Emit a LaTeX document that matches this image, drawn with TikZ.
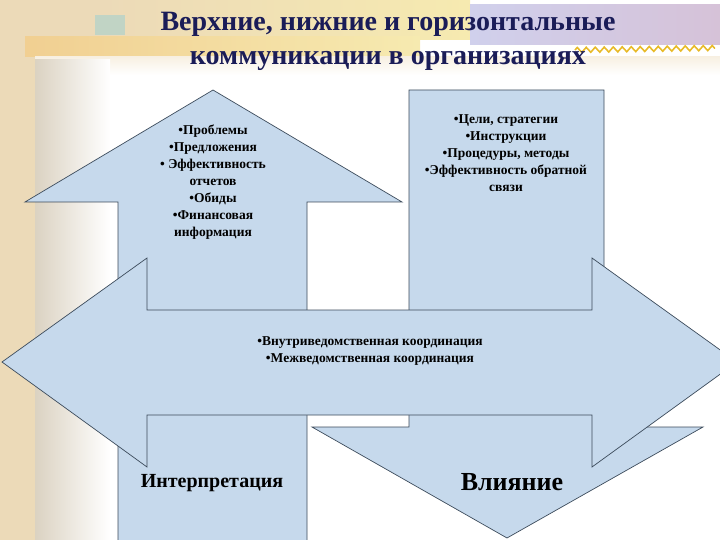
\documentclass[tikz,border=0pt]{standalone}
\usepackage{fontspec}
\setmainfont{Liberation Serif}
\usetikzlibrary{decorations.pathmorphing}
\definecolor{shapeblue}{RGB}{198,217,236}
\definecolor{edgegray}{RGB}{60,75,91}
\definecolor{titlenavy}{RGB}{26,28,88}
\definecolor{sandbeige}{RGB}{236,218,184}
\definecolor{paleyellow}{RGB}{246,234,176}
\definecolor{bandorange}{RGB}{244,200,120}
\definecolor{lavender}{RGB}{208,208,236}
\definecolor{mauve}{RGB}{214,194,216}
\definecolor{wheatgold}{RGB}{232,186,40}
\begin{document}
\begin{tikzpicture}
  [x=1pt,y=-1pt,
   arrowdecorate/.style={fill=shapeblue,draw=edgegray,line width=0.7pt,line join=miter},
   titledecorate/.style={font=\bfseries\fontsize{28}{33}\selectfont,text=titlenavy,inner sep=0pt,anchor=base},
   listdecorate/.style={font=\bfseries\fontsize{13.5}{17}\selectfont,align=center,inner sep=0pt,anchor=north},
   labeldecorate/.style={font=\bfseries,inner sep=0pt}]
  \useasboundingbox (0,0) rectangle (720,540);
  \clip (0,0) rectangle (720,540);

  %% background
  \fill[sandbeige] (0,0) rectangle (35,540);
  \fill[sandbeige] (0,0) rectangle (300,60);
  \shade[left color=sandbeige,right color=paleyellow] (100,0) rectangle (470,40);
  \shade[left color=bandorange!60!sandbeige,right color=paleyellow] (25,37) rectangle (420,57);
  \fill[cyan!20!sandbeige] (95,15) rectangle (125,35);
  \shade[left color=lavender,right color=mauve] (470,5) rectangle (720,45);
  \shade[top color=sandbeige!40,bottom color=white] (35,57) rectangle (720,75);
  \shade[left color=gray!30!sandbeige!70,right color=white] (35,60) rectangle (110,540);
  \draw[wheatgold,line width=1.6pt,decorate,decoration={zigzag,segment length=9pt,amplitude=2.5pt}]
    (575,50) -- (715,48);

  %% block arrows
  \draw[arrowdecorate] (213,90) -- (402,202) -- (307,202) -- (307,545) -- (118,545)
    -- (118,202) -- (25,202) -- cycle;
  \draw[arrowdecorate] (409,90) -- (604,90) -- (604,427) -- (703,427) -- (507,538)
    -- (312,427) -- (409,427) -- cycle;
  \draw[arrowdecorate] (2,362) -- (147,258) -- (147,310) -- (592,310) -- (592,258)
    -- (737,362) -- (592,467) -- (592,415) -- (147,415) -- (147,467) -- cycle;

  %% title
  \foreach \nodename/\y/\txt in {titleA/31/{Верхние, нижние и горизонтальные},
    titleB/65/{коммуникации в организациях}}
  {
    \node[titledecorate] (\nodename) at (388,\y) {\txt};
  }

  %% texts in the arrows
  \node[listdecorate] (upward) at (213,125)
    {•Проблемы\\•Предложения\\• Эффективность\\отчетов\\•Обиды\\•Финансовая\\информация};
  \node[listdecorate] (downward) at (506,114)
    {•Цели, стратегии\\•Инструкции\\•Процедуры, методы\\•Эффективность обратной\\связи};
  \node[listdecorate] (lateral) at (370,336)
    {•Внутриведомственная координация\\•Межведомственная координация};
  \node[labeldecorate,font=\bfseries\fontsize{20}{24}\selectfont] (interpret) at (212,483) {Интерпретация};
  \node[labeldecorate,font=\bfseries\fontsize{26}{30}\selectfont] (influence) at (512,482) {Влияние};
\end{tikzpicture}
\end{document}
